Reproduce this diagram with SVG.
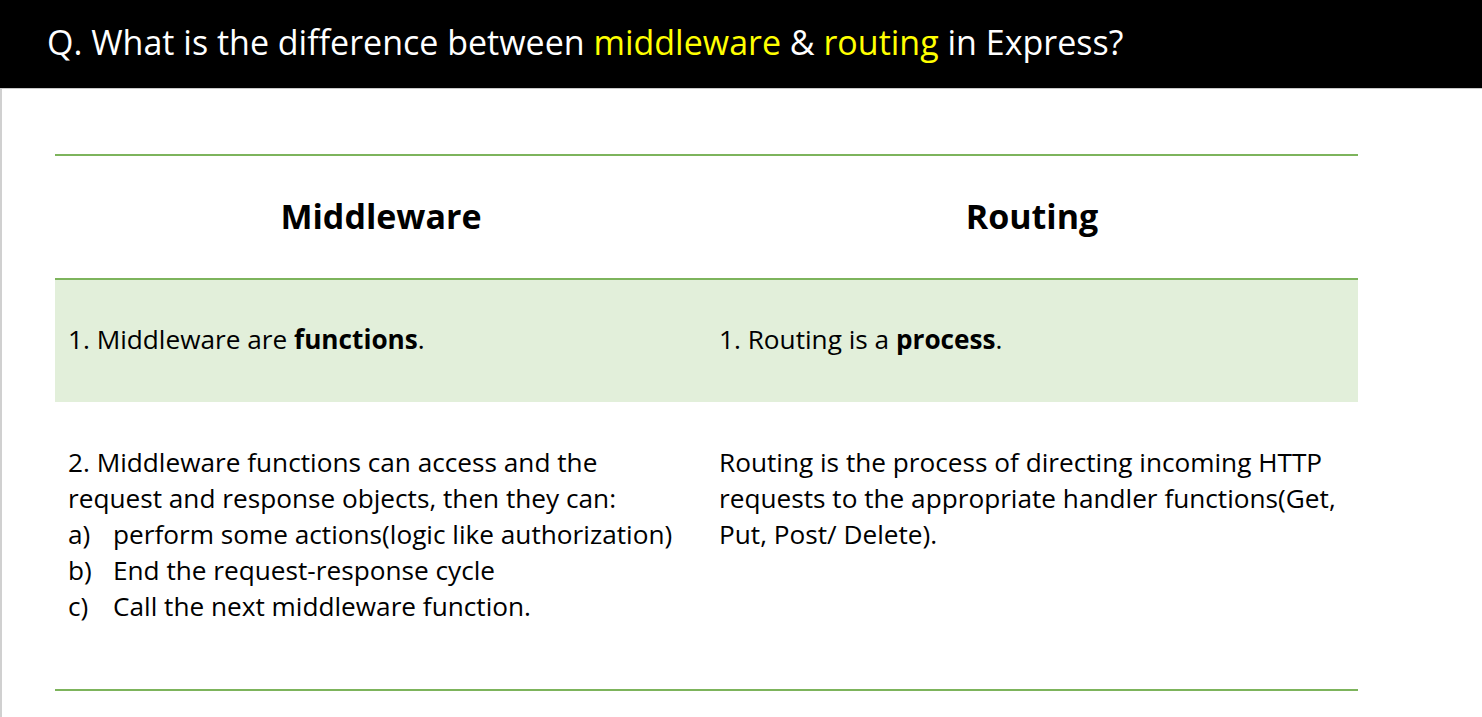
<svg xmlns="http://www.w3.org/2000/svg" width="1482" height="717" viewBox="0 0 1482 717">
<style>
.t{font-family:"Open Sans","Noto Sans",sans-serif;fill:#000;}
.title{font-family:"Open Sans","Noto Sans",sans-serif;font-size:34px;fill:#fff;}
.hl{fill:#ffff00;}
.hd{font-size:34px;font-weight:bold;text-anchor:middle;}
.b{font-size:26.2px;}
.bold{font-weight:bold;}
.rule{stroke:#7db45c;stroke-width:2;}
</style>
<rect x="0" y="0" width="1482" height="717" fill="#fff"/>
<line x1="1" y1="88" x2="1" y2="717" stroke="#d0d0d0" stroke-width="2"/>
<g id="header">
<rect x="0" y="0" width="1482" height="88" fill="#000"/>
<line x1="0" y1="88.5" x2="1482" y2="88.5" stroke="#c8c8c8" stroke-width="1"/>
<text class="title" x="47" y="55">Q. What is the difference between <tspan class="hl">middleware</tspan> &amp; <tspan class="hl">routing</tspan> in Express?</text>
</g>
<g id="table">
<rect x="55" y="280" width="1303" height="122" fill="#e2efda"/>
<line class="rule" x1="55" y1="155" x2="1358" y2="155"/>
<line class="rule" x1="55" y1="279" x2="1358" y2="279"/>
<line class="rule" x1="55" y1="690" x2="1358" y2="690"/>
</g>
<g id="col-headers">
<text class="t hd" x="381" y="229">Middleware</text>
<text class="t hd" x="1032" y="229">Routing</text>
</g>
<g id="row1">
<text class="t b" x="68" y="349">1. Middleware are <tspan class="bold">functions</tspan>.</text>
<text class="t b" x="719" y="349">1. Routing is a <tspan class="bold">process</tspan>.</text>
</g>
<g id="row2-middleware">
<text class="t b" x="68" y="472">2. Middleware functions can access and the</text>
<text class="t b" x="68" y="508">request and response objects, then they can:</text>
<text class="t b" x="68" y="544">a)</text>
<text class="t b" x="113" y="544">perform some actions(logic like authorization)</text>
<text class="t b" x="68" y="580">b)</text>
<text class="t b" x="113" y="580">End the request-response cycle</text>
<text class="t b" x="68" y="616">c)</text>
<text class="t b" x="113" y="616">Call the next middleware function.</text>
</g>
<g id="row2-routing">
<text class="t b" x="719" y="472">Routing is the process of directing incoming HTTP</text>
<text class="t b" x="719" y="508">requests to the appropriate handler functions(Get,</text>
<text class="t b" x="719" y="544">Put, Post/ Delete).</text>
</g>
</svg>
